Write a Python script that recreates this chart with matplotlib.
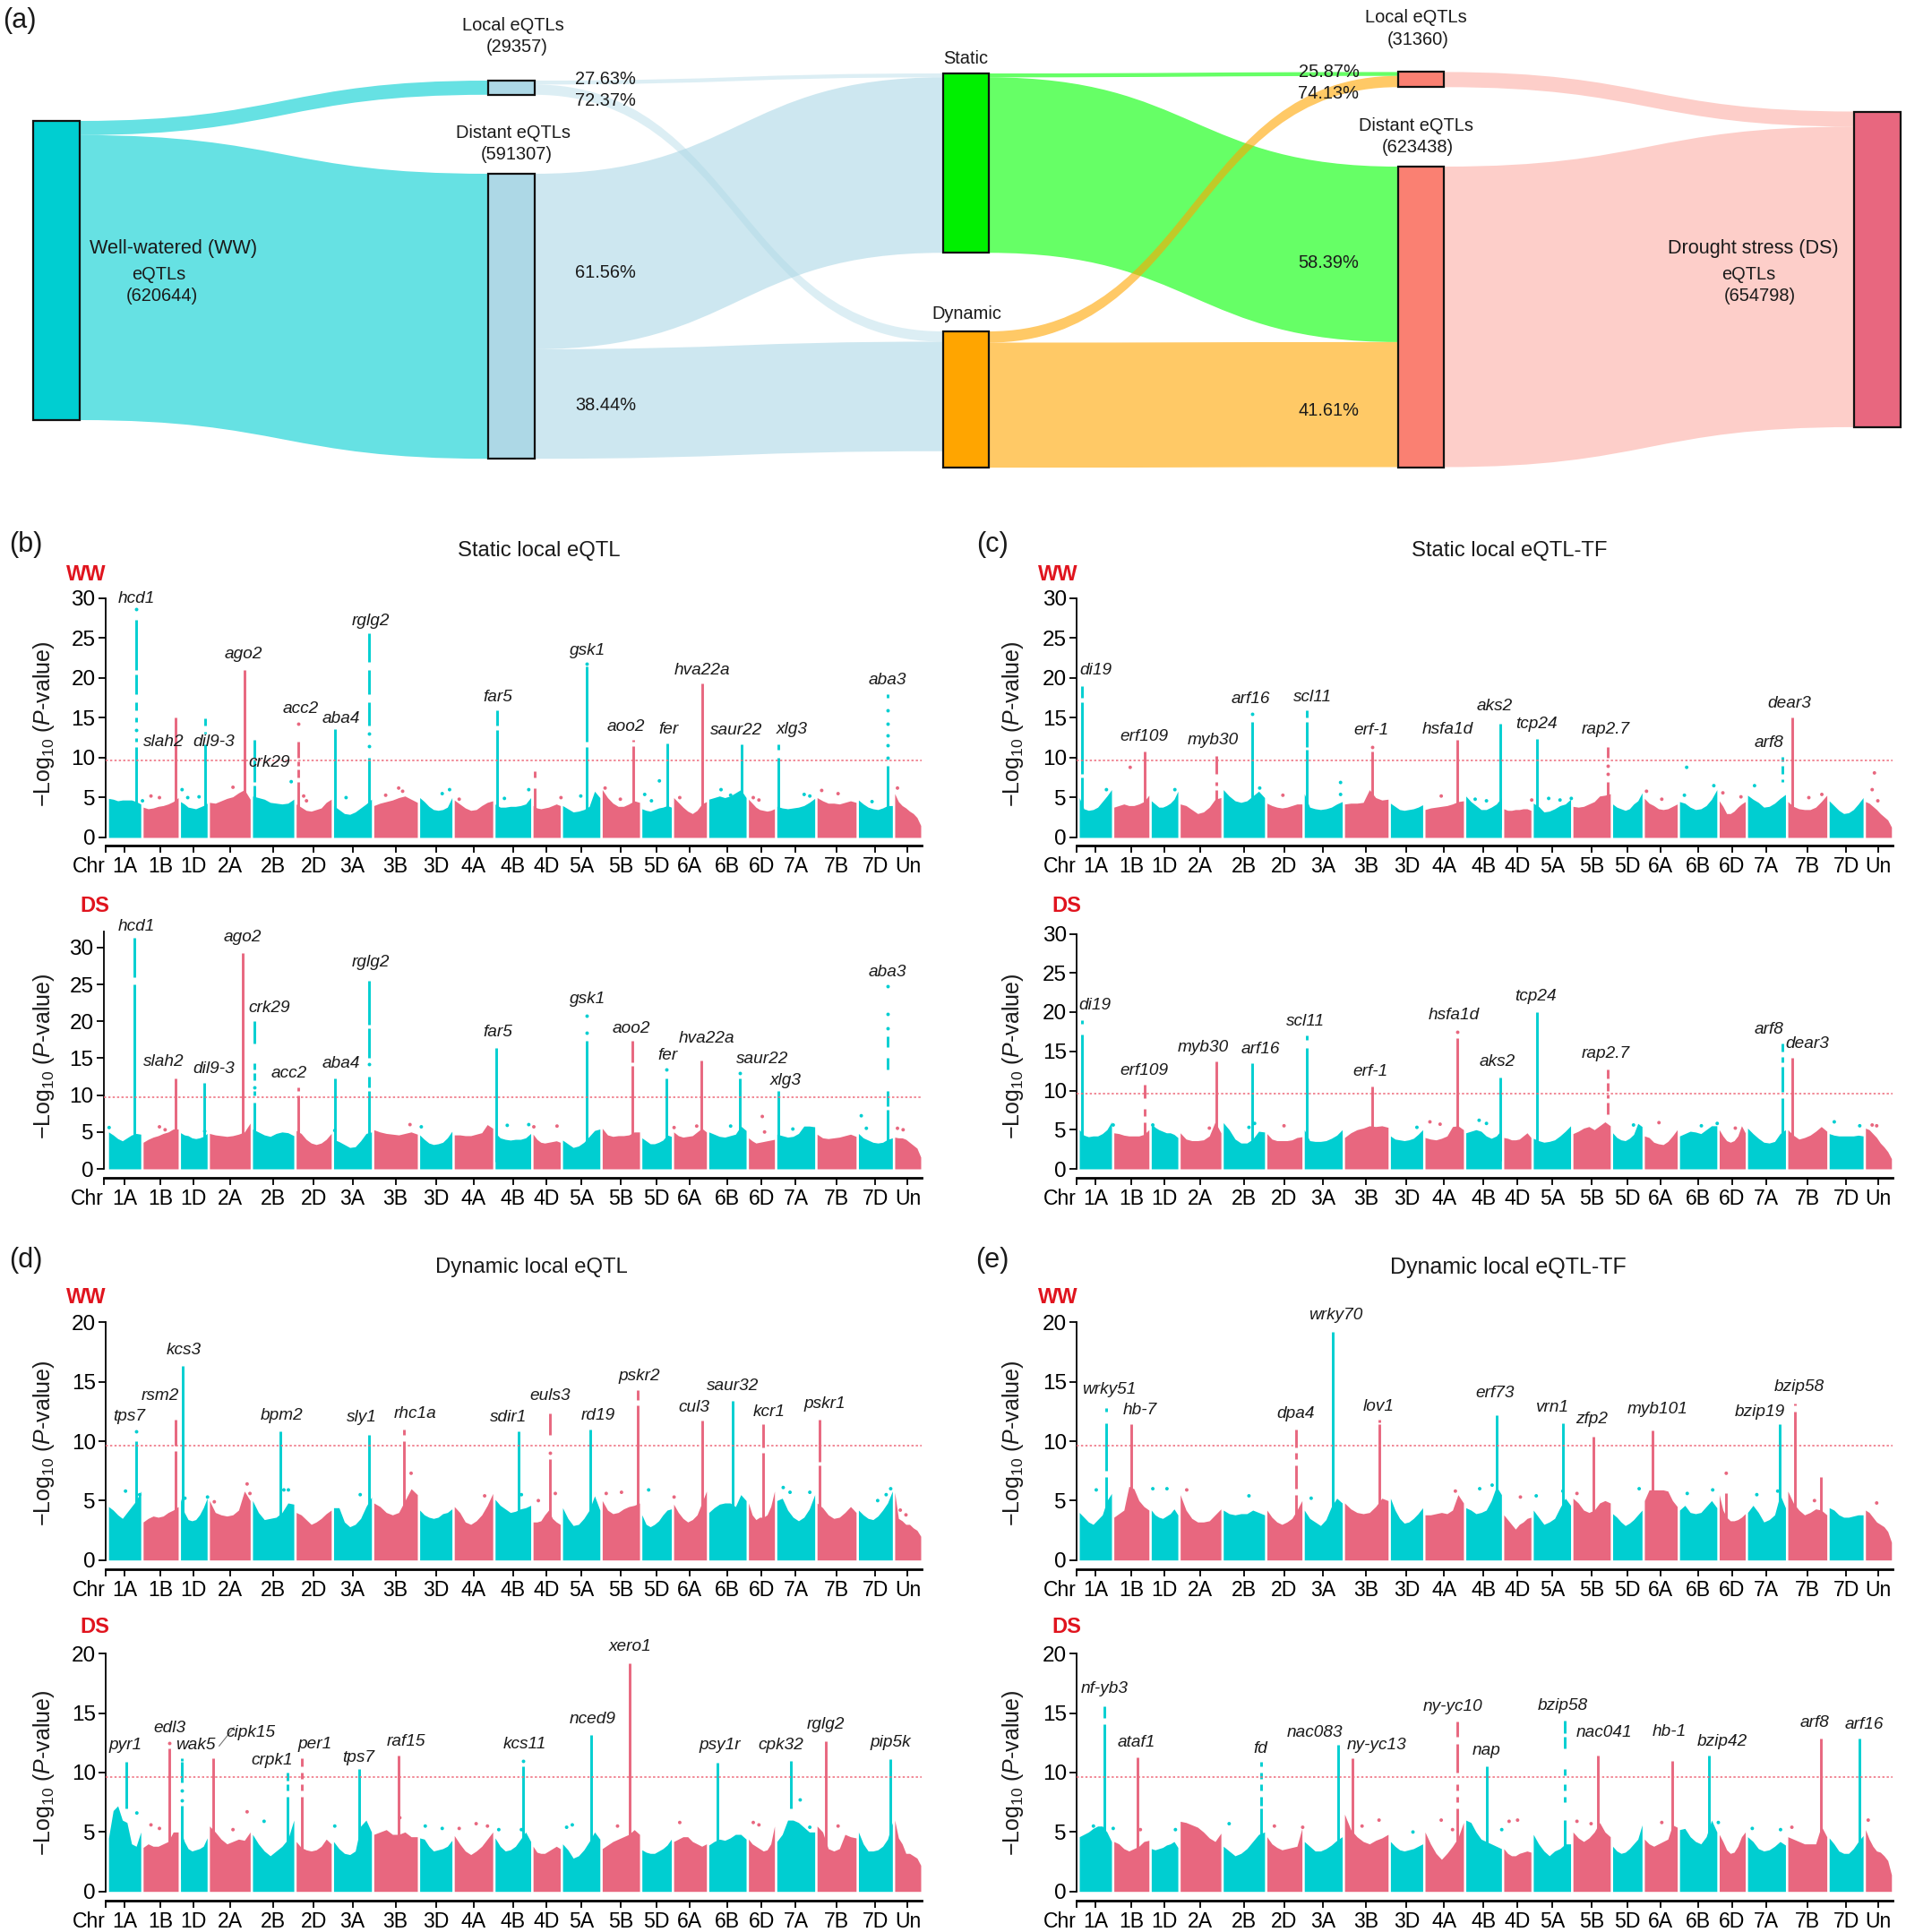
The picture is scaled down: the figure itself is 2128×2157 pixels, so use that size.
import numpy as np
import matplotlib
matplotlib.use("Agg")
import matplotlib.pyplot as plt
from matplotlib.path import Path
from matplotlib.patches import PathPatch, Rectangle

plt.rcParams['font.family'] = ['Liberation Sans', 'DejaVu Sans']
plt.rcParams['mathtext.fontset'] = 'custom'
plt.rcParams['mathtext.rm'] = 'Liberation Sans'
plt.rcParams['mathtext.it'] = 'Liberation Sans:italic'
plt.rcParams['mathtext.default'] = 'regular'

W, H = 2128, 2157
TEAL, PINK = '#00CED1', '#E8677F'

# ---------- Sankey data ----------
ww_total, ds_total = 620644, 654798
ww_local, ww_distant = 29357, 591307
ds_local, ds_distant = 31360, 623438
ww_local_pct = [27.63, 72.37]      # static, dynamic
ww_distant_pct = [61.56, 38.44]
ds_local_pct = [25.87, 74.13]
ds_distant_pct = [58.39, 41.61]

# ---------- Manhattan data ----------
chrom_names = ['1A','1B','1D','2A','2B','2D','3A','3B','3D','4A','4B','4D','5A','5B','5D','6A','6B','6D','7A','7B','7D','Un']
chrom_len = [57,62,47,72,73,62,67,77,57,68,63,48,66,66,52,58,66,46,67,69,60,46]

b_ww_env = [[4.9,4.8,4.6,4.7,4.7,4.7,4.5,4.2],[3.8,3.6,3.7,3.9,4.0,4.2,4.5,5.0],[4.5,4.2,3.8,3.7,3.6,3.8,4.0,4.3],[4.4,4.3,4.6,4.9,5.1,5.6,6.0,4.8],[5.2,5.0,4.8,4.4,4.3,4.2,4.3,4.8],[4.2,3.8,3.4,3.3,3.5,3.7,4.4,4.8],[4.0,3.5,3.0,2.9,3.2,3.7,4.2,4.8],[4.0,4.3,4.5,4.7,5.0,5.2,4.8,4.4],[5.0,4.5,3.9,3.5,3.4,3.5,3.8,5.0],[4.7,4.2,3.7,3.4,3.5,4.0,4.4,4.6],[4.2,3.8,3.8,3.9,3.9,4.0,4.2,5.0],[4.0,3.7,3.6,3.7,3.8,4.0,4.2,4.0],[4.0,3.6,3.2,3.3,3.5,3.9,5.8,5.0],[6.0,5.0,4.3,3.9,3.9,4.2,4.6,4.4],[3.6,3.4,3.3,3.5,3.7,3.8,4.0,3.8],[5.0,4.4,3.8,3.3,3.0,3.4,4.2,4.5],[4.8,5.0,5.2,5.0,5.2,5.6,6.0,5.0],[4.8,4.3,3.8,3.5,3.4,3.3,3.4,3.6],[3.9,3.7,3.6,3.7,3.8,4.0,4.4,4.9],[5.0,4.6,4.3,4.3,4.2,4.4,4.6,4.4],[4.7,4.2,3.8,3.6,3.5,3.7,4.0,4.0],[5.5,4.5,4.0,3.7,3.3,3.0,2.5,1.5]]
b_ds_env = [[5.0,4.6,4.1,3.8,4.2,4.6,4.8,4.7],[3.6,4.0,4.3,4.5,4.8,5.0,5.4,5.4],[4.9,4.6,4.5,4.2,4.1,4.2,4.4,4.8],[4.8,4.6,4.5,4.4,4.5,4.7,5.0,6.2],[5.4,5.0,4.6,4.4,4.8,5.0,4.9,4.5],[5.2,4.8,4.0,3.5,3.3,3.5,4.0,4.8],[4.0,3.7,3.3,2.9,3.0,3.8,4.8,5.0],[5.3,5.0,4.8,4.7,4.6,4.8,5.0,4.7],[4.6,4.0,3.5,3.3,3.4,3.6,4.2,5.1],[4.6,4.6,4.5,4.5,4.7,4.9,6.0,5.5],[4.9,4.2,4.0,3.9,4.0,4.0,4.2,4.8],[4.7,4.0,3.6,3.5,3.6,3.7,3.8,3.6],[3.9,3.4,2.9,3.1,3.6,4.4,5.2,5.4],[5.5,4.6,4.4,4.5,4.5,4.6,5.0,5.0],[4.2,3.8,3.4,3.4,3.6,3.9,4.6,4.4],[5.0,4.5,4.3,4.4,4.5,5.0,5.5,5.0],[5.0,4.7,4.4,4.3,4.5,4.7,5.8,5.2],[4.2,3.8,3.5,3.6,3.7,3.8,3.9,4.0],[4.7,4.5,4.3,4.4,4.8,5.8,5.8,5.7],[4.7,4.2,4.1,4.2,4.3,4.5,4.7,4.4],[4.8,4.2,3.9,3.6,3.5,3.6,4.0,4.2],[4.3,4.2,4.2,4.0,3.6,3.2,2.8,1.6]]
c_ww_env = [[5.0,3.6,3.4,3.5,3.8,4.5,5.2,6.0],[3.8,4.0,4.2,4.0,4.0,4.2,4.5,5.3],[4.6,4.2,3.8,3.8,4.0,4.3,4.8,5.8],[4.2,4.0,3.5,3.0,3.2,3.8,4.8,5.0],[6.0,5.2,4.6,4.4,4.6,5.2,5.8,5.0],[4.3,4.0,3.8,3.7,3.8,4.0,4.2,4.2],[5.5,3.8,3.6,3.5,3.6,3.8,4.2,4.5],[4.2,4.3,4.3,4.4,6.0,5.0,4.7,4.8],[4.3,3.9,3.5,3.4,3.5,3.6,3.8,4.1],[3.5,3.7,3.8,3.9,4.0,4.2,4.5,4.6],[5.2,4.5,4.0,3.5,3.5,3.8,4.2,5.0],[3.6,3.4,3.4,3.5,3.5,3.6,3.6,3.4],[4.3,3.9,3.2,3.3,3.6,4.0,4.2,4.8],[3.9,3.8,3.9,4.2,4.5,5.2,5.3,5.5],[4.2,3.8,3.6,3.4,3.6,4.2,4.6,5.6],[4.9,4.3,4.0,3.6,3.5,3.6,3.9,4.2],[4.5,4.3,3.8,3.5,3.6,4.0,4.8,6.0],[4.6,3.9,3.0,3.0,3.3,3.8,4.2,4.5],[5.3,4.8,4.4,3.8,3.9,4.3,4.9,5.4],[4.5,3.9,3.6,3.5,3.5,3.8,4.5,5.3],[4.6,4.0,3.4,3.0,3.1,3.5,4.2,5.0],[4.5,4.3,3.9,3.5,3.0,2.6,2.2,1.3]]
c_ds_env = [[5.0,4.3,4.1,4.2,4.2,4.5,5.0,6.0],[4.6,4.5,4.3,4.2,4.2,4.2,4.4,5.0],[5.8,5.3,5.0,4.8,4.6,4.6,4.4,4.0],[4.6,3.8,3.6,3.6,3.7,4.2,6.0,4.6],[5.9,5.0,3.8,3.3,3.3,3.8,4.8,4.7],[4.5,3.8,3.6,3.6,3.6,3.7,4.0,4.1],[5.0,3.6,3.5,3.5,3.6,3.9,4.3,5.0],[4.0,4.6,5.0,5.2,5.5,5.4,5.5,5.3],[4.2,3.8,3.7,3.6,3.7,3.9,4.4,5.0],[4.0,3.8,3.7,3.9,4.2,5.4,5.5,5.0],[4.6,4.8,5.0,4.8,4.2,3.9,4.2,5.0],[4.0,3.9,3.7,3.7,3.8,4.2,4.6,4.0],[3.9,3.6,3.4,3.5,3.7,4.2,4.8,5.5],[4.5,4.8,5.2,5.4,5.0,5.5,6.0,5.5],[4.6,4.0,3.7,3.6,3.9,4.4,5.8,5.4],[4.2,4.0,3.4,3.2,3.1,3.5,4.2,5.0],[4.2,4.5,4.8,4.7,4.5,5.0,5.5,5.5],[5.0,4.2,3.6,3.4,3.6,4.2,5.5,4.6],[5.2,4.5,3.9,3.4,3.3,3.5,4.5,5.0],[5.0,4.3,3.8,4.0,4.3,4.8,5.4,4.8],[4.5,4.3,4.2,4.2,4.2,4.2,4.3,4.2],[5.2,5.0,4.5,4.0,3.3,2.8,2.2,1.3]]
d_ww_env = [[4.5,4.2,3.8,3.5,4.0,4.5,5.0,5.8],[3.2,3.5,3.7,3.6,3.7,4.0,4.2,4.5],[5.2,4.0,3.4,3.3,3.4,3.8,4.4,5.2],[5.0,4.0,3.8,3.7,3.8,4.2,5.8,5.0],[5.0,4.0,3.4,3.5,3.6,4.0,4.8,4.7],[4.0,3.8,3.4,3.0,3.2,3.5,3.9,4.2],[4.4,4.4,3.2,2.8,3.0,3.5,4.5,5.3],[4.8,4.5,4.0,3.8,4.0,5.0,6.0,5.5],[4.2,3.8,3.6,3.5,3.6,3.9,4.0,4.3],[4.5,4.0,3.2,3.0,3.3,3.8,4.6,5.6],[5.1,4.6,4.3,4.0,4.1,4.3,4.4,4.6],[3.2,3.2,3.3,3.8,4.2,3.5,3.2,3.0],[4.4,3.5,2.9,3.0,3.5,4.2,5.4,4.2],[5.0,4.2,3.9,4.0,4.3,4.5,4.6,4.8],[3.8,3.0,2.8,3.0,3.3,3.8,4.2,4.3],[4.7,4.0,3.5,3.2,3.4,3.8,4.8,5.8],[4.0,4.4,4.7,4.8,4.8,4.5,5.5,5.0],[4.8,3.8,3.4,3.6,3.6,3.8,4.5,5.8],[5.0,5.2,4.2,3.6,3.3,3.6,4.3,5.5],[4.8,4.4,3.8,3.5,3.6,4.0,4.5,4.0],[4.2,3.8,3.5,3.4,3.7,4.2,4.8,5.8],[5.7,3.5,3.3,3.0,3.0,2.7,2.5,2.0]]
d_ds_env = [[4.5,6.8,7.2,6.0,5.8,4.0,3.8,5.0],[3.7,4.0,3.8,3.8,4.0,4.2,5.0,5.0],[5.2,4.2,3.6,3.4,3.5,3.6,3.8,4.5],[5.5,5.0,4.4,4.0,4.2,4.4,4.3,5.0],[4.8,4.0,3.4,3.0,3.4,3.8,4.4,6.0],[4.2,3.7,3.5,3.4,3.5,3.8,4.4,4.0],[4.2,3.6,3.2,3.1,3.4,5.5,6.0,5.0],[4.8,5.0,5.2,4.8,4.8,5.0,4.6,4.6],[4.5,4.4,3.8,3.4,3.5,3.6,3.8,4.3],[4.7,4.0,3.4,3.1,3.4,3.8,4.4,5.0],[4.5,3.8,3.4,3.5,3.8,4.4,5.0,4.2],[3.8,3.3,3.2,3.2,3.4,3.6,3.8,3.6],[4.0,3.5,2.8,3.0,3.5,4.2,5.0,4.4],[3.6,3.9,4.2,4.4,4.6,4.8,5.2,4.8],[3.5,3.3,3.2,3.2,3.4,3.6,3.9,4.4],[4.2,4.4,4.6,4.6,4.2,4.0,3.8,4.0],[3.9,4.2,4.4,4.3,4.5,4.8,4.8,4.4],[4.4,4.0,3.8,3.6,3.4,3.5,4.0,5.5],[4.2,4.8,6.0,6.0,5.8,5.4,5.0,5.0],[5.5,5.0,3.6,3.4,3.6,4.8,4.6,4.5],[5.0,4.0,3.4,3.4,3.5,3.8,4.4,5.8],[6.0,4.5,4.0,3.2,3.2,3.0,2.8,2.2]]
e_ww_env = [[4.0,3.6,3.2,3.0,3.4,3.8,5.0,5.6],[3.6,3.9,4.2,6.2,6.0,5.0,4.5,4.2],[4.2,3.8,3.6,3.5,3.7,3.9,4.3,3.8],[5.5,4.2,3.5,3.2,3.2,3.3,3.8,4.3],[4.2,3.9,3.8,3.9,3.9,4.2,4.0,3.8],[4.2,3.6,3.2,3.0,3.2,3.5,4.2,5.0],[4.2,3.5,3.2,2.9,3.4,4.5,5.2,4.8],[4.8,4.3,4.0,3.9,4.0,4.5,5.2,5.0],[5.2,4.2,3.5,3.1,3.2,3.5,3.9,4.4],[3.8,3.8,3.9,4.0,3.9,4.2,5.5,4.8],[4.4,4.2,3.9,4.0,4.2,5.0,6.2,5.5],[3.8,3.4,3.0,2.6,3.0,3.2,3.5,3.6],[4.2,3.6,3.0,3.2,3.5,4.4,5.2,4.6],[5.2,4.8,4.2,4.0,4.2,4.8,5.0,4.8],[3.9,3.6,3.2,2.9,3.1,3.4,3.8,4.2],[5.0,5.9,5.9,5.9,5.9,5.8,5.0,4.5],[4.2,4.6,4.0,3.9,4.0,4.5,5.0,4.4],[5.5,4.2,3.6,3.3,3.3,3.4,3.6,3.9],[4.0,4.6,4.0,3.2,3.4,3.8,5.5,4.4],[5.8,4.8,4.2,3.8,4.0,4.3,4.2,3.8],[4.4,4.2,3.8,3.6,3.6,3.7,3.8,3.8],[4.2,4.0,3.6,3.2,3.0,2.8,2.4,1.5]]
e_ds_env = [[4.6,4.8,5.0,5.3,5.5,5.5,5.0,4.2],[4.2,4.0,3.6,3.4,3.6,3.8,4.2,4.3],[3.6,3.5,3.6,3.7,3.9,4.0,4.2,3.7],[5.9,5.8,5.6,5.4,5.0,4.5,4.2,4.9],[3.8,3.4,3.0,3.2,3.6,4.2,4.8,5.0],[4.6,4.0,3.7,3.5,3.6,3.7,3.8,5.3],[4.2,3.8,3.4,3.4,3.6,3.9,4.3,4.6],[6.5,5.2,4.6,4.2,4.0,4.3,4.5,4.8],[4.2,3.8,3.5,3.4,3.5,3.6,3.8,4.0],[5.0,4.0,3.2,2.7,3.2,3.8,4.5,5.8],[6.0,5.8,5.0,4.4,4.2,4.0,3.8,3.6],[3.6,3.2,3.0,3.0,3.2,3.3,3.4,3.3],[4.8,4.0,3.4,3.0,3.4,3.6,4.0,4.0],[5.0,4.5,4.2,4.5,5.0,5.8,5.0,4.6],[3.8,3.4,3.2,3.3,3.6,4.0,4.4,5.6],[4.4,4.0,3.8,4.0,4.2,4.4,5.6,5.4],[5.2,5.3,4.6,4.2,4.0,4.6,6.0,5.0],[4.8,4.2,3.5,3.2,3.3,3.8,4.6,5.0],[4.6,4.2,3.6,3.4,3.5,3.8,4.2,3.9],[4.6,4.4,4.2,4.0,4.0,4.0,5.5,4.6],[4.5,4.0,3.4,3.2,3.2,3.6,4.2,4.7],[5.2,4.4,3.8,3.4,3.3,3.0,2.6,1.4]]

b_ww_px = [48,119,170,240,258,336,401,461,687,753,845,927,988,1049,1119,1185,1378]
b_ww_sp = [[(4,11.3),(12,12.5),(13.5,13.5),(14.5,15),(16,17),(18,20.5),(21,27.3),(28.6,28.6)],[(4,15)],[(4,11.7),(13,13.3),(14,14.9)],[(4,21)],[(6,6.5),(7,9.8),(10,12.3)],[(5,7),(7.5,8.5),(9,9.5),(10,12),(14.3,14.3)],[(4,13.6)],[(5,10),(11.5,11.5),(13,13),(14,17),(18,21),(22,25.6)],[(4,13.5),(14,16)],[(5.7,6.2),(7.5,8.3)],[(4,11.3),(12,21.5),(21.8,21.8)],[(4,11.5),(12,12.2)],[(4,11.8)],[(4,19.3)],[(5,11.7)],[(4,10),(11,11.7)],[(5,9),(10,10),(11.6,11.6),(12.8,12.8),(14.3,14.3),(16,16),(17.5,18)]]
b_ww_dx = [974,323,948,130,743,513,603,878,1083,1261,1395,60,75,90,140,160,220,345,350,420,490,520,590,620,700,800,835,905,960,1010,1100,1140,1150,1230,1240,1290,1350]
b_ww_dy = [7.1,7.0,5.4,6.0,6.0,6.2,6.0,6.2,6.0,5.9,6.2,4.6,5.2,5.0,5.0,5.1,6.3,5.2,4.6,5.0,5.3,5.8,5.5,4.8,4.9,5.0,5.2,4.8,4.6,5.0,5.3,5.0,4.7,5.4,5.2,5.5,4.5]
b_ds_px = [46,118,169,238,258,336,400,460,686,845,926,987,1048,1117,1184,1377]
b_ds_sp = [[(4.5,25),(26,31.3)],[(5.8,12.3)],[(5.5,11.6)],[(5,29.3)],[(6,9),(10,10.5),(11,11),(12,13),(13.5,14.3),(17,20)],[(5.8,10),(10.5,11)],[(5.5,12.2)],[(5,10.5),(11,12.5),(14.2,14.2),(15,19),(19.5,25.5)],[(4.8,16.4)],[(5,17.4),(18.5,18.5),(20.8,20.8)],[(5,14),(14.5,17.3)],[(5,12.3),(13.5,13.5)],[(5.8,14.7)],[(6,12.3),(13,13)],[(5,10.5)],[(6,8),(8.5,10.6),(13.5,15),(16.5,18),(19,19),(21,21),(24.7,24.7)]]
b_ds_dx = [1156,1331,1,90,705,743,793,752,533,553,400,1000,1040,1100,1160,1210,1340,1395,1405,100,170]
b_ds_dy = [7.1,7.2,5.6,5.7,5.9,6.0,5.8,5.7,6.0,5.7,5.2,5.6,5.8,5.8,5.0,5.4,5.5,5.5,5.3,5.3,5.1]
c_ww_px = [4,115,242,305,402,518,668,744,809,934,1243,1261]
c_ww_sp = [[(4,7.5),(8,17),(17.5,19)],[(5,10.8)],[(5.5,6),(6.5,7),(8,10.2)],[(5,14.5),(15.5,15.5)],[(4.5,11),(11.3,14.5),(15,16)],[(5,10.8),(11.3,11.3)],[(4.5,12.2)],[(4,14.3)],[(4.5,12.4)],[(5,7),(8,8),(9,9),(10,11.3)],[(7,7.3),(8,9),(9.5,10.1)],[(5,15)]]
c_ww_dx = [90,1074,462,462,1406,1402,1122,1194,48,169,319,360,640,700,720,800,830,850,870,1003,1030,1070,1138,1170,1290,1313,1412]
c_ww_dy = [8.8,8.8,6.9,5.4,8.1,6.0,6.5,6.5,6.0,6.0,6.2,5.3,5.2,4.8,4.6,4.7,4.9,4.7,4.9,5.8,4.8,5.3,5.6,5.1,5.0,5.4,4.6]
c_ds_px = [4,116,242,306,402,518,668,744,809,934,1243,1261]
c_ds_sp = [[(6,17.2),(18.5,19)],[(5,6),(6.8,7.7),(9,10.7)],[(5,13.7)],[(5,13.5)],[(5,15.4),(16.5,17)],[(5,10.5)],[(5.5,16.7),(17.5,17.5)],[(4.5,11.7)],[(5,20)],[(7,8.5),(9,9.5),(10,11),(11.5,12.7)],[(5,9),(9.8,13),(13.6,14.3),(15,16)],[(5,14.2)]]
c_ds_dx = [707,1025,638,597,620,720,362,60,1335,1160,1402,1410,1380,230,130,1100,1128,980,310,300]
c_ds_dy = [6.2,5.9,5.7,5.3,6.0,5.8,5.5,5.6,6.0,5.2,5.6,5.5,5.5,5.2,5.6,5.5,5.8,5.6,5.8,5.3]
d_ww_px = [48,118,131,304,461,522,725,780,851,936,1049,1104,1158,1257]
d_ww_sp = [[(5.5,10),(10.8,10.8)],[(5,9.2),(9.6,11.8)],[(5.2,16.3)],[(5.5,10.8)],[(5,10.5)],[(6,10),(10.5,11)],[(5.3,10.8)],[(5.7,8.5),(9,9),(10.5,12.3)],[(5.5,11)],[(6,13),(13.5,14.3)],[(6,11.7)],[(5.5,13.4)],[(6,9),(9.5,11.4)],[(6.3,8),(8.3,11.8)]]
d_ww_dx = [535,1193,955,245,318,1383,30,55,135,175,187,250,310,445,665,730,760,790,880,907,1000,1205,1240,1375,1400,1360,1410]
d_ww_dy = [7.3,6.1,5.9,6.4,5.9,6.0,5.8,5.5,5.2,5.3,4.9,5.6,5.9,5.5,5.4,5.5,5.0,5.6,5.6,5.7,5.3,5.7,5.7,5.5,4.2,5.0,3.8]
d_ds_px = [31,108,130,185,317,342,443,513,733,854,922,1077,1207,1269,1383]
d_ds_sp = [[(7,10.9)],[(5.5,12),(12.5,12.5)],[(5.5,7.2),(7.7,7.7),(8.5,8.5),(9.2,10.9),(11,11.2)],[(6,11.2)],[(6,8),(8.5,9),(9.3,10)],[(6.2,8),(8.5,9),(9.5,10),(10.5,11.2)],[(5.8,10.3)],[(6,11.4)],[(6,10.5),(11,11)],[(5.5,13.2)],[(5.5,19.2)],[(5.8,10.8)],[(7,11)],[(5.5,12.6)],[(5.5,11.1)]]
d_ds_dx = [1223,50,75,90,245,275,220,400,515,560,590,620,650,670,690,730,820,810,900,1010,1140,1150,1240,1290]
d_ds_dy = [7.7,6.6,5.6,5.3,6.7,5.9,5.2,5.5,6.2,5.5,5.3,5.3,5.7,5.5,5.2,5.2,5.6,5.4,5.5,5.8,5.8,5.6,5.4,5.5]
e_ww_px = [48,92,383,449,530,738,855,909,1013,1239,1266,1311,1143]
e_ww_sp = [[(5.5,7),(7.5,11.5),(12.5,12.8)],[(6,11.4)],[(5,5.5),(6,8),(8.5,9),(9.5,11)],[(5,19.2)],[(5,11.4),(11.6,11.8)],[(5.5,12.2)],[(5,11.5)],[(5.3,10.4)],[(6,10.9)],[(5,11.4)],[(5.5,12.5),(13,13.2)],[(6.2,7)],[(5,5.6)]]
e_ww_dx = [1144,130,155,190,300,410,665,708,730,780,808,855,880,990,1075,1120,1198,1235,1300,1410,30]
e_ww_dy = [7.3,6.0,6.0,5.9,5.4,5.2,5.8,6.0,6.3,5.3,5.4,5.8,5.6,6.0,5.6,5.9,5.5,5.8,5.0,4.8,5.9]
e_ds_px = [44,103,322,458,483,668,720,858,917,1048,1114,1312,1379]
e_ds_sp = [[(5,14.1),(14.6,15.6)],[(4.5,11.3)],[(5,7),(7.2,8),(8.5,9),(9.5,10),(10.5,10.9)],[(6,12.3)],[(6.5,11.2)],[(6,7),(7.5,8),(8.5,9),(10,12.4),(13,14.3)],[(6,10.5)],[(5,6),(7.5,8),(8.5,9),(9.8,10.3),(12,13),(13.3,14.4)],[(5.5,11.4)],[(5.5,11)],[(5.5,11.4)],[(5.5,12.9)],[(5,12.9)]]
e_ds_dx = [25,60,108,170,265,345,395,500,530,590,660,640,747,760,775,880,905,1030,1130,1190,1240,1260,1395]
e_ds_dy = [5.5,5.3,5.2,5.2,5.7,5.5,5.4,5.5,6.0,5.0,5.2,6.0,5.2,5.9,6.0,5.9,5.7,5.8,5.8,5.3,5.2,5.4,6.0]

b_ww_genes = ['hcd1','slah2','dil9-3','ago2','crk29','acc2','aba4','rglg2','far5','gsk1','aoo2','fer','hva22a','saur22','xlg3','aba3']
b_ww_gx = [111,133,174,198,219,244,277,301,404,477,508,543,570,598,643,721]
b_ww_gy = [485,601,601,530,618,574,582,503,565,527,589,591,543,592,591,551]
b_ds_genes = ['hcd1','slah2','dil9-3','ago2','crk29','acc2','aba4','rglg2','far5','gsk1','aoo2','fer','hva22a','saur22','xlg3','aba3']
b_ds_gx = [111,133,174,197,219,235,277,301,404,477,513,542,574,619,638,721]
b_ds_gy = [751,861,867,760,817,870,862,780,837,810,834,856,842,859,876,788]
c_ww_genes = ['di19','erf109','myb30','arf16','scl11','erf-1','hsfa1d','aks2','tcp24','rap2.7','arf8','dear3']
c_ww_gx = [890,929,985,1016,1066,1114,1176,1214,1248,1304,1437,1453]
c_ww_gy = [543,597,600,566,565,592,591,572,587,591,602,570]
c_ds_genes = ['di19','erf109','myb30','arf16','scl11','erf-1','hsfa1d','aks2','tcp24','rap2.7','arf8','dear3']
c_ds_gx = [889,929,977,1024,1060,1113,1181,1216,1247,1304,1437,1468]
c_ds_gy = [815,868,849,851,828,869,823,861,808,854,835,846]
d_ww_genes = ['tps7','rsm2','kcs3','bpm2','sly1','rhc1a','sdir1','euls3','rd19','pskr2','cul3','saur32','kcr1','pskr1']
d_ww_gx = [105,130,149,229,294,337,413,447,486,519,564,595,625,670]
d_ww_gy = [1149,1132,1095,1148,1150,1147,1150,1132,1148,1116,1142,1124,1145,1139]
d_ds_genes = ['pyr1','edl3','wak5','cipk15','crpk1','per1','tps7','raf15','kcs11','nced9','xero1','psy1r','cpk32','rglg2','pip5k']
d_ds_gx = [102,138,159,204,221,256,291,330,426,481,512,585,634,671,723]
d_ds_gy = [1416,1402,1416,1406,1428,1415,1426,1413,1415,1395,1336,1416,1416,1399,1414]
e_ww_genes = ['wrky51','hb-7','dpa4','wrky70','lov1','erf73','vrn1','zfp2','myb101','bzip19','bzip58']
e_ww_gx = [901,926,1052,1085,1120,1214,1261,1293,1346,1429,1461]
e_ww_gy = [1127,1144,1147,1067,1141,1130,1142,1151,1143,1145,1125]
e_ds_genes = ['nf-yb3','ataf1','fd','nac083','ny-yc13','ny-yc10','nap','bzip58','nac041','hb-1','bzip42','arf8','arf16']
e_ds_gx = [897,923,1024,1068,1118,1180,1207,1269,1303,1356,1399,1474,1514]
e_ds_gy = [1370,1414,1419,1406,1416,1385,1420,1384,1406,1405,1413,1398,1399]

fig = plt.figure(figsize=(W/100, H/100), dpi=100, facecolor='white')
bg = fig.add_axes([0, 0, 1, 1])
bg.set_xlim(0, W); bg.set_ylim(H, 0); bg.axis('off')

# ---------- Sankey ----------
scale = 334 / ww_total
node_x = {'WW':37, 'L1':545, 'D1':545, 'S':1052.5, 'Y':1052.5, 'L2':1560.5, 'D2':1560.5, 'DS':2070}
node_top = {'WW':135, 'L1':90, 'D1':194, 'S':82, 'Y':370, 'L2':80.4, 'D2':186, 'DS':124.5}
node_col = {'WW':TEAL, 'L1':'#ADD8E6', 'D1':'#ADD8E6', 'S':'#00F000', 'Y':'#FFA500', 'L2':'#FA8072', 'D2':'#FA8072', 'DS':PINK}
node_w = 51.5
flows = [
    ('WW','L1',ww_local,TEAL,.6), ('WW','D1',ww_distant,TEAL,.6),
    ('L1','S',ww_local*ww_local_pct[0]/100,'#ADD8E6',.42), ('L1','Y',ww_local*ww_local_pct[1]/100,'#ADD8E6',.42),
    ('D1','S',ww_distant*ww_distant_pct[0]/100,'#ADD8E6',.6), ('D1','Y',ww_distant*ww_distant_pct[1]/100,'#ADD8E6',.6),
    ('S','L2',ds_local*ds_local_pct[0]/100,'#00FF00',.6), ('S','D2',ds_distant*ds_distant_pct[0]/100,'#00FF00',.6),
    ('Y','L2',ds_local*ds_local_pct[1]/100,'#FFA500',.6), ('Y','D2',ds_distant*ds_distant_pct[1]/100,'#FFA500',.6),
    ('L2','DS',ds_local,'#FA8072',.38), ('D2','DS',ds_distant,'#FA8072',.38),
]
out_pos = dict(node_top); in_pos = dict(node_top)
out_sum = {k:0 for k in node_x}; in_sum = {k:0 for k in node_x}
for s, d, v, c, a in flows:
    h = v*scale
    x0 = node_x[s]+node_w; x1 = node_x[d]; xm = (x0+x1)/2
    y0 = out_pos[s]; y1 = in_pos[d]
    verts = [(x0,y0),(xm,y0),(xm,y1),(x1,y1),(x1,y1+h),(xm,y1+h),(xm,y0+h),(x0,y0+h),(x0,y0)]
    codes = [Path.MOVETO,Path.CURVE4,Path.CURVE4,Path.CURVE4,Path.LINETO,Path.CURVE4,Path.CURVE4,Path.CURVE4,Path.CLOSEPOLY]
    bg.add_patch(PathPatch(Path(verts,codes),facecolor=c,alpha=a,lw=0,zorder=2))
    out_pos[s] += h; in_pos[d] += h
    out_sum[s] += h; in_sum[d] += h
for k in node_x:
    h = max(out_sum[k], in_sum[k])
    bg.add_patch(Rectangle((node_x[k],node_top[k]),node_w,h,facecolor=node_col[k],edgecolor='#111111',lw=1.6,zorder=3))

sankey_txt = [('Local eQTLs',573,29),('(29357)',577,53),('Distant eQTLs',573,149),('(591307)',577,173),
    ('27.63%',676,88),('72.37%',676,112),('61.56%',676,305),('38.44%',676,453),
    ('Well-watered (WW)',193.5,277),('eQTLs',177,307),('(620644)',180.5,331),
    ('Static',1078,65.6),('Dynamic',1079.6,351),('Local eQTLs',1580.6,19.7),('(31360)',1583,44),
    ('Distant eQTLs',1580.6,141),('(623438)',1583,165),('25.87%',1483.5,80),('74.13%',1483.5,104),
    ('58.39%',1483.5,293.5),('41.61%',1483.5,459),('Drought stress (DS)',1957.5,277),('eQTLs',1952.6,307),('(654798)',1964.4,331)]
for t,x,y in sankey_txt:
    fs = 15.6 if t.startswith(('Well','Drought')) else 14.4
    bg.text(x,y,t,fontsize=fs,ha='center',va='center',color='#1a1a1a',zorder=6)

# ---------- Manhattan panels ----------
GAP = 4.15
starts = np.concatenate([[0], np.cumsum(np.array(chrom_len)+GAP)[:-1]])
total = starts[-1]+chrom_len[-1]
centers = starts+np.array(chrom_len)/2
PXU = 0.6314
DISP = 2128/1548
TY = 1.5   # vertical nudge of overlay texts

def chrom_col(i):
    return TEAL if i % 2 == 0 else PINK

def col_at(x):
    i = int(np.searchsorted(starts, x, side='right')-1)
    return chrom_col(max(i, 0))

def manhattan(L, x0, y0, unit, axis_y, top, env, px, sp, dx, dy):
    R = x0+total*PXU+1.5
    top_px = y0-top*unit
    ax = fig.add_axes([L/W, 1-axis_y/H, (R-L)/W, (axis_y-top_px)/H])
    ax.patch.set_alpha(0)
    ax.set_xlim((L-x0)/PXU, (R-x0)/PXU)
    ax.set_ylim(-(axis_y-y0)/unit, top)
    for i, vals in enumerate(env):
        xs = np.linspace(starts[i], starts[i]+chrom_len[i], len(vals))
        ax.fill_between(xs, 0, vals, color=chrom_col(i), lw=0, zorder=2)
    for x, spans in zip(px, sp):
        c = col_at(x)
        for j, (a, b) in enumerate(spans):
            if j == 0 and a <= 6.5:
                a = 1
            if b > a:
                ax.vlines(x, a, b, color=c, lw=2.1, zorder=3)
            else:
                ax.scatter([x],[a],s=8,color=c,lw=0,zorder=3)
    ax.scatter(dx, dy, s=8, c=[col_at(x) for x in dx], lw=0, zorder=3)
    ax.axhline(9.65, color='#EE6A7A', lw=1.1, ls=(0,(1.6,1.6)), zorder=4)
    for s in ['top','right']:
        ax.spines[s].set_visible(False)
    ax.spines['left'].set_bounds(0, top)
    ax.spines['left'].set_linewidth(1.3)
    ax.spines['bottom'].set_linewidth(2.0)
    ax.set_yticks(np.arange(0, top+0.01, 5))
    ax.tick_params(axis='y', labelsize=17.5, length=6, width=1.3, pad=2)
    ax.set_xticks([(L-x0)/PXU]+list(centers))
    ax.set_xticklabels(['Chr']+chrom_names)
    ax.tick_params(axis='x', labelsize=16.6, length=5.5, width=1.3, pad=3)
    ax.get_xticklabels()[0].set_ha('right')
    ax.get_xticklabels()[0].set_x((L-x0)/PXU+3)
    return ax

panels = [
    (117.5,121.2,935,8.9,944,30,b_ww_env,b_ww_px,b_ww_sp,b_ww_dx,b_ww_dy,b_ww_genes,b_ww_gx,b_ww_gy),
    (115.6,121.2,1305,8.24,1315,32.2,b_ds_env,b_ds_px,b_ds_sp,b_ds_dx,b_ds_dy,b_ds_genes,b_ds_gx,b_ds_gy),
    (1202,1205,935,8.9,944,30,c_ww_env,c_ww_px,c_ww_sp,c_ww_dx,c_ww_dy,c_ww_genes,c_ww_gx,c_ww_gy),
    (1202,1205,1305,8.75,1315,30,c_ds_env,c_ds_px,c_ds_sp,c_ds_dx,c_ds_dy,c_ds_genes,c_ds_gx,c_ds_gy),
    (118,121.2,1741.7,13.27,1752,20,d_ww_env,d_ww_px,d_ww_sp,d_ww_dx,d_ww_dy,d_ww_genes,d_ww_gx,d_ww_gy),
    (118,121.2,2111.7,13.27,2122,20,d_ds_env,d_ds_px,d_ds_sp,d_ds_dx,d_ds_dy,d_ds_genes,d_ds_gx,d_ds_gy),
    (1202,1205,1741.7,13.27,1752,20,e_ww_env,e_ww_px,e_ww_sp,e_ww_dx,e_ww_dy,e_ww_genes,e_ww_gx,e_ww_gy),
    (1202,1205,2111.7,13.27,2122,20,e_ds_env,e_ds_px,e_ds_sp,e_ds_dx,e_ds_dy,e_ds_genes,e_ds_gx,e_ds_gy),
]
top_ov = fig.add_axes([0,0,1,1], zorder=20)
top_ov.set_xlim(0,W); top_ov.set_ylim(H,0); top_ov.axis('off'); top_ov.patch.set_alpha(0)

ylab_y = [588,858,588,858,1172,1440,1172,1440]
ylab_x = [36,36,823,823,36,36,823,823]
for p, lx, ly in zip(panels, ylab_x, ylab_y):
    L,x0,y0,unit,ay,top,env,px,sp,dx,dy,genes,gx,gy = p
    manhattan(L,x0,y0,unit,ay,top,env,px,sp,dx,dy)
    for g,x,y in zip(genes,gx,gy):
        top_ov.text(x*DISP,(y+TY)*DISP,g,fontsize=13.7,style='italic',ha='center',va='center',color='#1a1a1a')
    top_ov.text(lx*DISP,ly*DISP,r'$-$Log$_{10}$ ($\mathit{P}$-value)',fontsize=18,rotation=90,ha='center',va='center',color='#1a1a1a')

for t,x,y in [('WW',70,465),('DS',77,734),('WW',859,465),('DS',866,734),('WW',70,1052),('DS',77,1320),('WW',859,1052),('DS',866,1320)]:
    top_ov.text(x*DISP,(y+TY)*DISP,t,fontsize=17,fontweight='bold',color='#E0141E',ha='center',va='center')
for t,x,y,fs in [('Static local eQTL',438,446,17.2),('Static local eQTL-TF',1226,446,17.2),('Dynamic local eQTL',432,1028,17.2),('Dynamic local eQTL-TF',1225,1028,18.0)]:
    top_ov.text(x*DISP,(y+TY)*DISP,t,fontsize=fs,color='#1a1a1a',ha='center',va='center')
for t,x,y in [('(a)',16,15),('(b)',21,441),('(c)',806,441),('(d)',21,1022),('(e)',806,1022)]:
    top_ov.text(x*DISP,(y+TY)*DISP,t,fontsize=22,color='#1a1a1a',ha='center',va='center')
top_ov.plot([178*DISP,190*DISP],[1418*DISP,1403*DISP],color='#777777',lw=0.8)

fig.savefig('out.png', dpi=100, facecolor='white')
